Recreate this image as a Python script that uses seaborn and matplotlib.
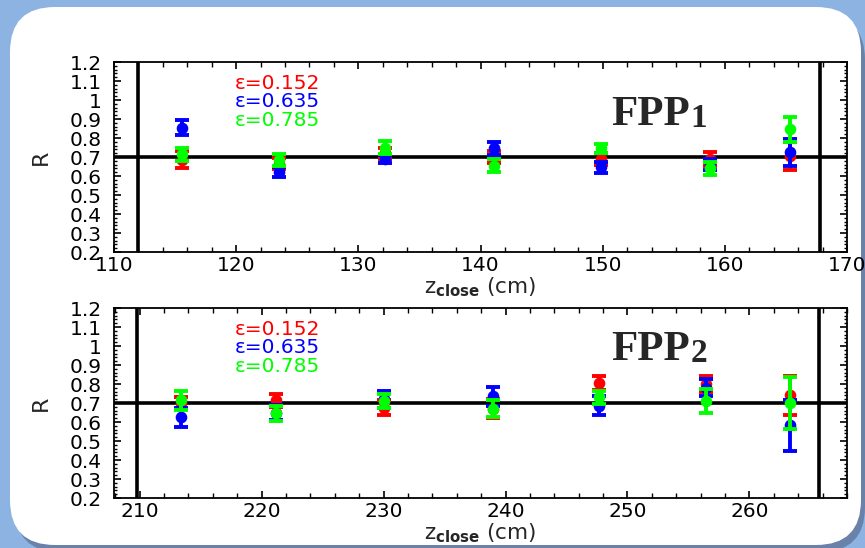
import numpy as np
import pandas as pd
import matplotlib
matplotlib.use("Agg")
import matplotlib.pyplot as plt
import seaborn as sns
from matplotlib.patches import FancyBboxPatch
from matplotlib.ticker import MultipleLocator, FuncFormatter

# ---- data -------------------------------------------------------------
eps_labels = ["0.152", "0.635", "0.785"]
eps_colors = ["#ff0000", "#0000ff", "#00ff00"]

fpp1_z = [115.6, 123.5, 132.2, 141.1, 149.9, 158.8, 165.3]
fpp1_r_152 = [0.685, 0.665, 0.720, 0.700, 0.690, 0.690, 0.705]
fpp1_e_152 = [0.045, 0.030, 0.030, 0.030, 0.030, 0.035, 0.075]
fpp1_r_635 = [0.855, 0.620, 0.690, 0.745, 0.645, 0.660, 0.725]
fpp1_e_635 = [0.040, 0.025, 0.020, 0.035, 0.030, 0.030, 0.072]
fpp1_r_785 = [0.715, 0.685, 0.750, 0.655, 0.745, 0.640, 0.845]
fpp1_e_785 = [0.035, 0.030, 0.035, 0.033, 0.025, 0.035, 0.065]

fpp2_z = [213.4, 221.2, 230.0, 239.0, 247.7, 256.4, 263.3]
fpp2_r_152 = [0.700, 0.715, 0.675, 0.670, 0.805, 0.800, 0.740]
fpp2_e_152 = [0.030, 0.035, 0.040, 0.050, 0.035, 0.040, 0.104]
fpp2_r_635 = [0.625, 0.650, 0.720, 0.735, 0.685, 0.780, 0.582]
fpp2_e_635 = [0.050, 0.040, 0.045, 0.050, 0.050, 0.045, 0.132]
fpp2_r_785 = [0.715, 0.645, 0.710, 0.670, 0.730, 0.710, 0.700]
fpp2_e_785 = [0.050, 0.040, 0.035, 0.045, 0.035, 0.065, 0.136]

fpp1_xticks = [110, 120, 130, 140, 150, 160, 170]
fpp2_xticks = [210, 220, 230, 240, 250, 260]
r_ref = 0.7

# ---- style ------------------------------------------------------------
sns.set_style("ticks")
plt.rcParams["font.family"] = ["DejaVu Sans"]
plt.rcParams["mathtext.fontset"] = "dejavusans"


def long_frame(z, series):
    rows = []
    for lab, (r, e) in zip(eps_labels, series):
        for zi, ri, ei in zip(z, r, e):
            rows.append({"z": zi, "R": ri, "err": ei, "eps": lab})
    return pd.DataFrame(rows)


def draw_panel(ax, df, xlim, xticks, vlines, tag):
    for k, (lab, col) in enumerate(zip(eps_labels, eps_colors)):
        sub = df[df["eps"] == lab]
        ax.errorbar(sub["z"], sub["R"], yerr=sub["err"], fmt="none",
                    ecolor=col, elinewidth=2.8, capsize=5, capthick=2.8,
                    zorder=3 + k)
        sns.scatterplot(data=sub, x="z", y="R", color=col, s=70,
                        linewidth=0, ax=ax, zorder=3.5 + k, legend=False)

    ax.axhline(r_ref, color="black", lw=2.6, zorder=2)
    for v in vlines:
        ax.axvline(v, color="black", lw=2.6, zorder=2)

    ax.set_xlim(*xlim)
    ax.set_ylim(0.2, 1.2)
    ax.set_xticks(xticks)
    ax.xaxis.set_minor_locator(MultipleLocator(2))
    ax.yaxis.set_major_locator(MultipleLocator(0.1))
    ax.yaxis.set_minor_locator(MultipleLocator(0.02))
    ax.yaxis.set_major_formatter(FuncFormatter(lambda v, p: f"{v:g}"))
    ax.tick_params(which="both", direction="in", top=True, right=True,
                   colors="black", labelsize=14.5)
    ax.tick_params(axis="x", which="major", length=5, width=1.2, pad=3)
    ax.tick_params(axis="x", which="minor", length=3.5, width=1.0)
    ax.tick_params(axis="y", which="major", length=5, width=1.2, pad=9)
    ax.tick_params(axis="y", which="minor", length=2.5, width=1.0)
    for sp in ax.spines.values():
        sp.set_color("black")
        sp.set_linewidth(1.3)
    ax.set_xlabel("")
    ax.set_ylabel("")
    ax.set_facecolor("white")

    ax.text(-0.1, 0.5, "R", transform=ax.transAxes, rotation=90,
            ha="center", va="center", fontsize=16)
    ax.text(0.5, -0.185, r"z$_{\mathbf{close}}$ (cm)", transform=ax.transAxes,
            ha="center", va="center", fontsize=15.5)

    for lab, col, yy in zip(eps_labels, eps_colors, [0.886, 0.792, 0.694]):
        ax.text(0.165, yy, "\u03b5=" + lab, transform=ax.transAxes,
                color=col, fontsize=14.5, ha="left", va="center")

    t = ax.text(0.679, tag[1], "FPP", transform=ax.transAxes,
                fontsize=31, fontweight="bold", family="Liberation Serif",
                ha="left", va="center", zorder=6)
    ax.annotate(tag[0], xy=(1.0, 0.0), xycoords=t, ha="left", va="bottom",
                fontsize=24, fontweight="bold", family="Liberation Serif",
                zorder=6)


# ---- figure -----------------------------------------------------------
fig = plt.figure(figsize=(8.65, 5.48), dpi=100)
fig.patch.set_facecolor("#8db3e2")

shadow = FancyBboxPatch((0.15, -0.04), 8.50, 5.37,
                        boxstyle="round,pad=0,rounding_size=0.45",
                        transform=fig.dpi_scale_trans, fc="#6a82aa",
                        ec="none", zorder=-2)
panel = FancyBboxPatch((0.10, 0.03), 8.51, 5.38,
                       boxstyle="round,pad=0,rounding_size=0.45",
                       transform=fig.dpi_scale_trans, fc="white",
                       ec="none", zorder=-1)
fig.add_artist(shadow)
fig.add_artist(panel)

ax1 = fig.add_axes([0.1318, 0.5401, 0.8474, 0.3467])
ax2 = fig.add_axes([0.1318, 0.0912, 0.8474, 0.3467])

df1 = long_frame(fpp1_z, [(fpp1_r_152, fpp1_e_152), (fpp1_r_635, fpp1_e_635),
                          (fpp1_r_785, fpp1_e_785)])
df2 = long_frame(fpp2_z, [(fpp2_r_152, fpp2_e_152), (fpp2_r_635, fpp2_e_635),
                          (fpp2_r_785, fpp2_e_785)])

draw_panel(ax1, df1, (110, 170), fpp1_xticks, [112.0, 167.8], ("1", 0.72))
draw_panel(ax2, df2, (207.9, 268.0), fpp2_xticks, [209.8, 265.7], ("2", 0.78))

fig.savefig("out.png", dpi=100, facecolor=fig.get_facecolor())
